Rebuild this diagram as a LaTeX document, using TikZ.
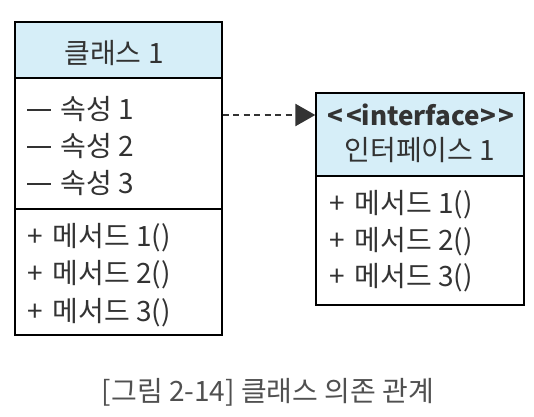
\documentclass[tikz,border=0pt]{standalone}
\usepackage{fontspec}
\setmainfont{Noto Sans CJK KR}
\usepackage{tikz}
\usetikzlibrary{arrows.meta}

\definecolor{headBlue}{RGB}{214,238,248}
\definecolor{textGray}{RGB}{51,51,51}
\definecolor{capGray}{RGB}{80,80,80}

\newcommand{\attrMinus}{\rule[0.3em]{0.85em}{1.9pt}\hspace{0.35em}}
\newcommand{\opPlus}{+\hspace{0.35em}}

\begin{document}
\begin{tikzpicture}[x=1pt,y=1pt]
		\useasboundingbox (0,0) rectangle (534,416);
		\begin{scope}
			[
				styleHead/.style={
					draw, line width=1.4pt, fill=headBlue,
					minimum width=#1, inner sep=0pt
					},
				styleBody/.style={draw, line width=1.4pt, fill=white, minimum width=207pt, inner sep=0pt},
				styleRow/.style={anchor=west, inner sep=0pt, text=textGray, font=\fontsize{28}{32}\selectfont},
				styleTitle/.style={inner sep=0pt, text=textGray, font=\fontsize{28}{32}\selectfont},
			]
			% class box
			\node(clsHead)[styleHead=207pt, minimum height=56pt] at (118.5,366) {};
			\node(clsAttr)[styleBody, minimum height=131pt] at (118.5,272.5) {};
			\node(clsOps)[styleBody, minimum height=126pt] at (118.5,144) {};
			\node(clsName)[styleTitle] at (114,363) {클래스 1};

			\node(attr1)[styleRow] at (27,307) {\attrMinus 속성 1};
			\node(attr2)[styleRow] at (27,270) {\attrMinus 속성 2};
			\node(attr3)[styleRow] at (27,233) {\attrMinus 속성 3};

			\node(op1)[styleRow] at (27,178) {\opPlus 메서드 1()};
			\node(op2)[styleRow] at (27,141) {\opPlus 메서드 2()};
			\node(op3)[styleRow] at (27,103) {\opPlus 메서드 3()};

			% interface box
			\node(ifHead)[styleHead=208pt, minimum height=83pt] at (420,281.5) {};
			\node(ifOps)[styleBody, minimum width=208pt, minimum height=129pt] at (420,175.5) {};
			\node(ifStereo)[styleTitle, font=\fontsize{26}{30}\selectfont\bfseries] at (421,301) {<\kern3pt<interface>\kern3pt>};
			\node(ifName)[styleTitle] at (420,266) {인터페이스 1};

			\node(ifOp1)[styleRow] at (329,211) {\opPlus 메서드 1()};
			\node(ifOp2)[styleRow] at (329,174) {\opPlus 메서드 2()};
			\node(ifOp3)[styleRow] at (329,138) {\opPlus 메서드 3()};

			% caption
			\node(caption)[inner sep=0pt, text=capGray, font=\fontsize{28}{32}\selectfont] at (268,24) {[그림 2-14] 클래스 의존 관계};
		\end{scope}

		\begin{scope}
			[ dep/.style = {-{Triangle[length=20pt,width=22pt]}, dashed, dash pattern=on 6pt off 4.5pt, line width=2.6pt, draw=textGray}]
			\draw[dep] (clsAttr.east |- ifStereo.west) -- (ifHead.west |- ifStereo.west);
		\end{scope}
	\end{tikzpicture}
\end{document}
